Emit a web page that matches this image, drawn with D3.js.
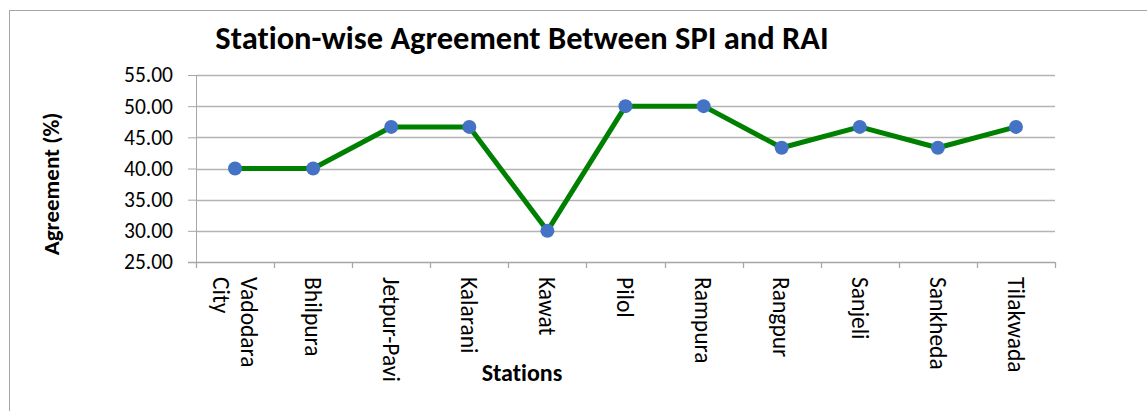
<!DOCTYPE html>
<meta charset="utf-8">
<html>
<head>
<script src="https://d3js.org/d3.v7.min.js"></script>
<style>
  body { margin: 0; background: #fff; }
  text { font-family: Calibri, Carlito, Lato, sans-serif; fill: #000; font-variant-ligatures: none; }
</style>
</head>
<body>
<div id="my_dataviz"></div>
<script>

// stations (first one wraps on two lines)
var stations = ["Vadodara City", "Bhilpura", "Jetpur-Pavi", "Kalarani", "Kawat", "Pilol",
                "Rampura", "Rangpur", "Sanjeli", "Sankheda", "Tilakwada"];
var agreement = [40.00, 40.00, 46.67, 46.67, 30.00, 50.00, 50.00, 43.33, 46.67, 43.33, 46.67];
var yTicks = [25, 30, 35, 40, 45, 50, 55];

var W = 1147, H = 411;
var margin = {top: 75, right: 92, bottom: 149, left: 196},
    width = W - margin.left - margin.right,
    height = H - margin.top - margin.bottom;

var root = d3.select("#my_dataviz")
  .append("svg")
    .attr("width", W)
    .attr("height", H);

// chart area border (runs off right / bottom)
root.append("rect")
  .attr("x", 9.5).attr("y", 10.5)
  .attr("width", W + 10).attr("height", H + 10)
  .attr("fill", "none")
  .attr("stroke", "#a6a6a6")
  .attr("stroke-width", 1);

var svg = root.append("g")
  .attr("transform", "translate(" + margin.left + "," + margin.top + ")");

var x = d3.scaleBand()
  .domain(stations)
  .range([0, width]);

var y = d3.scaleLinear()
  .domain([25, 55])
  .range([height, 0]);

// gridlines
svg.append("g")
  .selectAll("line")
  .data(yTicks.slice(1))
  .enter().append("line")
    .attr("x1", 0).attr("x2", width)
    .attr("y1", function(d) { return Math.round(y(d)) + 0.5; })
    .attr("y2", function(d) { return Math.round(y(d)) + 0.5; })
    .attr("stroke", "#b3b3b3")
    .attr("stroke-width", 1.3);

// Y axis
var yAxis = svg.append("g")
  .call(d3.axisLeft(y).tickValues(yTicks).tickSize(8).tickPadding(15)
        .tickFormat(d3.format(".2f")));
yAxis.select(".domain").attr("stroke", "#a6a6a6").attr("d", "M0.5,0V" + height);
yAxis.selectAll(".tick line").attr("stroke", "#a6a6a6");
yAxis.selectAll(".tick text").style("font-size", "21.5px");

// X axis: tick marks on category boundaries
var xAxis = svg.append("g")
  .attr("transform", "translate(0," + height + ")");
xAxis.append("line")
  .attr("x1", -8).attr("x2", width)
  .attr("y1", 0.5).attr("y2", 0.5)
  .attr("stroke", "#a6a6a6").attr("stroke-width", 1.3);
xAxis.selectAll(".bound")
  .data(stations.concat(["end"]))
  .enter().append("line")
    .attr("class", "bound")
    .attr("x1", function(d, i) { return Math.round(i * x.step()) + 0.5; })
    .attr("x2", function(d, i) { return Math.round(i * x.step()) + 0.5; })
    .attr("y1", 0).attr("y2", 6)
    .attr("stroke", "#a6a6a6").attr("stroke-width", 1.3);

// rotated category labels
var lab = xAxis.selectAll(".lab")
  .data(stations)
  .enter().append("text")
    .attr("class", "lab")
    .attr("transform", function(d) {
      return "translate(" + (x(d) + x.bandwidth() / 2) + ",15) rotate(90)";
    })
    .style("font-size", "23.5px")
    .attr("text-anchor", "start");
lab.each(function(d) {
  var words = d === "Vadodara City" ? ["Vadodara", "City"] : [d];
  var t = d3.select(this);
  var off = (words.length - 1) * 0.5;
  words.forEach(function(w, i) {
    t.append("tspan")
      .attr("x", 0)
      .attr("y", ((i - off) * 1.2 + 0.35) + "em")
      .text(w);
  });
});

// line
var line = d3.line()
  .x(function(d, i) { return x(stations[i]) + x.bandwidth() / 2; })
  .y(function(d) { return y(d); });

svg.append("path")
  .datum(agreement)
  .attr("fill", "none")
  .attr("stroke", "#008000")
  .attr("stroke-width", 5)
  .attr("stroke-linejoin", "round")
  .attr("d", line);

svg.selectAll(".dot")
  .data(agreement)
  .enter().append("circle")
    .attr("class", "dot")
    .attr("cx", function(d, i) { return x(stations[i]) + x.bandwidth() / 2; })
    .attr("cy", function(d) { return y(d); })
    .attr("r", 7)
    .attr("fill", "#4472c4");

// title and axis titles
root.append("text")
  .attr("x", 522).attr("y", 49)
  .attr("text-anchor", "middle")
  .style("font-size", "32.5px")
  .style("font-weight", "bold")
  .text("Station-wise Agreement Between SPI and RAI");

root.append("text")
  .attr("transform", "translate(59,184) rotate(-90)")
  .attr("text-anchor", "middle")
  .style("font-size", "23px")
  .style("font-weight", "bold")
  .text("Agreement (%)");

root.append("text")
  .attr("x", 522).attr("y", 381)
  .attr("text-anchor", "middle")
  .style("font-size", "24px")
  .style("font-weight", "bold")
  .text("Stations");

</script>
</body>
</html>
